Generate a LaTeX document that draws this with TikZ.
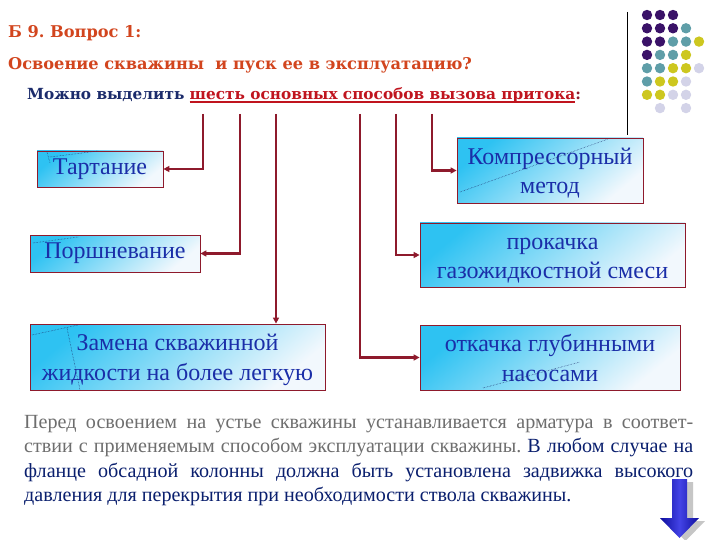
\documentclass[tikz,border=0pt]{standalone}
\usepackage{fontspec}
\setmainfont{LiberationSerif}[Extension=.ttf, UprightFont=*-Regular, BoldFont=*-Bold, ItalicFont=*-Italic, BoldItalicFont=*-BoldItalic]
\newfontfamily\headfont{DejaVu Serif}
\usetikzlibrary{arrows.meta,calc,backgrounds}
\frenchspacing
\definecolor{titlered}{HTML}{D2451E}
\definecolor{navy}{HTML}{1B2B6B}
\definecolor{ulred}{HTML}{C0141E}
\definecolor{connred}{HTML}{8E1A2C}
\definecolor{shadowred}{HTML}{A8101E}
\definecolor{boxtext}{HTML}{1A2EA8}
\definecolor{cyanA}{HTML}{2EC2F2}
\definecolor{lightA}{HTML}{F2F8FD}
\definecolor{graytext}{HTML}{6E6E6E}
\definecolor{paranavy}{HTML}{0A1F6E}
\definecolor{dpurple}{HTML}{3A1268}
\definecolor{dteal}{HTML}{5F9EA8}
\definecolor{dyellow}{HTML}{CDC71F}
\definecolor{dlav}{HTML}{D3D3E8}
\definecolor{arrowblue}{HTML}{1414E0}
\newcommand\myul[1]{\setbox0\hbox{#1}\rlap{\raisebox{-3pt}{\color{ulred}\rule{\wd0}{2pt}}}\box0}
\newcommand\topst{\rule{0pt}{22.5pt}}
\newcommand\botst{\rule[-5pt]{0pt}{5pt}}
\tikzset{
  boxnode/.style={draw=connred, line width=0.8pt, top color=cyanA, bottom color=lightA,
    shading angle=40, align=center, text=boxtext, inner sep=0pt,
    font=\fontsize{24}{29.5}\selectfont},
  conn/.style={draw=connred, line width=2.2pt, -{Triangle[length=6pt,width=6pt]}},
  artdot/.style={draw=navy, line width=0.5pt, densely dotted},
  headtxt/.style={anchor=base west, inner sep=0, font=\headfont\bfseries\fontsize{16.2}{16}\selectfont},
  paratxt/.style={anchor=base west, inner sep=0, font=\fontsize{20.1}{20}\selectfont},
}
\begin{document}
\begin{tikzpicture}[x=1pt,y=-1pt]
\useasboundingbox[fill=white] (0,0) rectangle (720,540);

% headings
\node[headtxt, text=titlered] (h1) at (8,38) {Б 9. Вопрос 1:};
\node[headtxt, text=titlered] (h2) at (8,70) {Освоение скважины\ \ и пуск ее в эксплуатацию?};
\node[headtxt, font=\headfont\bfseries\fontsize{15.3}{16}\selectfont] (h3) at (27,100) {\color{navy}Можно выделить \color{ulred}\myul{шесть основных способов вызова притока}\color{connred}:};

% separator and dots
\coordinate (vl1) at (627,12);
\coordinate (vl2) at (627,135);
\draw[black, line width=0.8pt] (vl1) -- (vl2);
\foreach \r/\c/\col in {0/0/dpurple,0/1/dpurple,0/2/dpurple,
  1/0/dpurple,1/1/dpurple,1/2/dpurple,1/3/dteal,
  2/0/dpurple,2/1/dpurple,2/2/dteal,2/3/dteal,2/4/dyellow,
  3/0/dpurple,3/1/dteal,3/2/dteal,3/3/dyellow,
  4/0/dteal,4/1/dteal,4/2/dyellow,4/3/dyellow,4/4/dlav,
  5/0/dteal,5/1/dyellow,5/2/dyellow,5/3/dlav,
  6/0/dyellow,6/1/dyellow,6/2/dlav,6/3/dlav,
  7/1/dlav,7/3/dlav}
  \fill[\col] ({647+13*\c},{15+13.3*\r}) circle (5.2);

% boxes
\node[boxnode, minimum width=126pt, minimum height=36pt] (b1) at (100,169) {Тартание};
\node[boxnode, minimum width=170pt, minimum height=37pt] (b2) at (115,253.5) {Поршневание};
\node[boxnode, minimum width=295pt, minimum height=66pt] (b3) at (177.5,357) {\topst Замена скважинной\\жидкости на более легкую\botst};
\node[boxnode, minimum width=186pt, minimum height=65pt] (b4) at (550,170.5) {\topst Компрессорный\\метод\botst};
\node[boxnode, minimum width=265pt, minimum height=64pt] (b5) at (552.5,255) {\topst прокачка\\газожидкостной смеси\botst};
\node[boxnode, minimum width=260pt, minimum height=65pt] (b6) at (550,357.5) {\topst откачка глубинными\\насосами\botst};

\begin{scope}[on background layer]
\foreach \b in {b1,b2,b3,b4,b5,b6}
  \fill[shadowred] ($(\b.north west)+(3,3)$) rectangle ($(\b.south east)+(3,3)$);
\end{scope}

% decorative dotted marks inside boxes
\draw[artdot] (47,152) -- (50,163);
\draw[artdot] (50,157) -- (98,151);
\draw[artdot] (33,243) -- (78,237);
\draw[artdot] (32,335) -- (78,325);
\draw[artdot] (67,328) -- (80,390);
\draw[artdot] (460,192) -- (608,139);
\draw[artdot] (483,388) -- (580,362);

% connectors
\coordinate (t1) at (203,114);
\coordinate (t2) at (240,114);
\coordinate (t3) at (276,114);
\coordinate (t4) at (360,114);
\coordinate (t5) at (396,114);
\coordinate (t6) at (432,114);
\draw[conn] (t1) |- (b1.east);
\draw[conn] (t2) |- (b2.east);
\draw[conn] (t3) -- (t3 |- b3.north);
\draw[conn] (t4) |- (b6.west);
\draw[conn] (t5) |- (b5.west);
\draw[conn] (t6) |- (b4.west);

% paragraph
\node[paratxt] (p1) at (24,428)
  {\makebox[669pt][s]{\color{graytext}Перед освоением на устье скважины устанавливается арматура в соответ-}};
\node[paratxt] (p2) at (24,452.5)
  {\makebox[669pt][s]{\color{graytext}ствии с применяемым способом эксплуатации скважины. {\color{paranavy}В} {\color{paranavy}любом} {\color{paranavy}случае} {\color{paranavy}на}}};
\node[paratxt] (p3) at (24,477)
  {\makebox[669pt][s]{\color{paranavy}фланце обсадной колонны должна быть установлена задвижка высокого}};
\node[paratxt, text=paranavy] (p4) at (24,501.5)
  {давления для перекрытия при необходимости ствола скважины.};

% blue down arrow with shadow
\fill[gray!45] (678,482) -- (693,482) -- (693,521) -- (705,521) -- (685.5,541) -- (666,521) -- (678,521) -- cycle;
\shade[left color=arrowblue!70!black, right color=arrowblue!70!black, middle color=arrowblue!80!white]
  (672,479) -- (687,479) -- (687,518) -- (699,518) -- (679.5,538) -- (660,518) -- (672,518) -- cycle;
\end{tikzpicture}
\end{document}
